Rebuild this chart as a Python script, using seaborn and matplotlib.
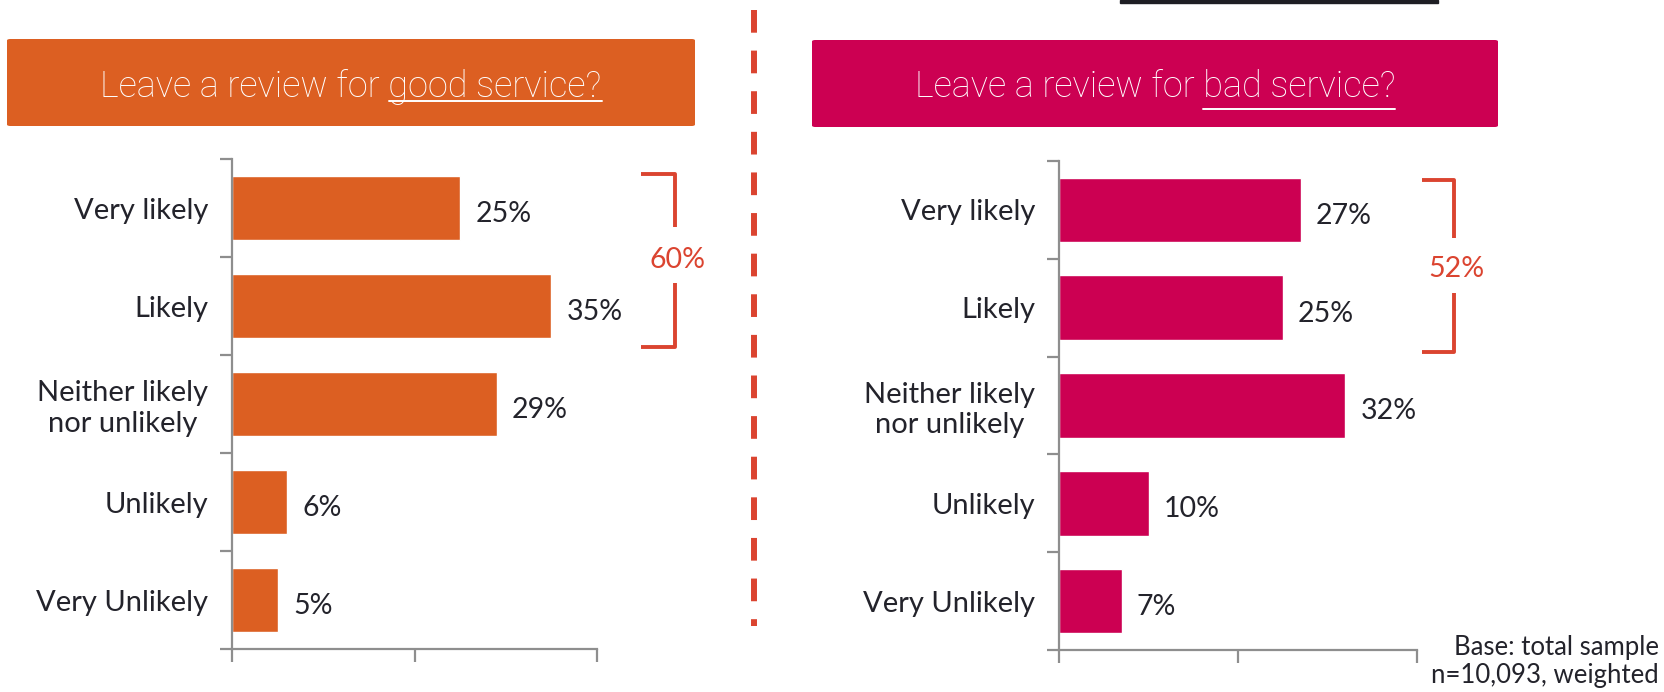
import numpy as np
import pandas as pd
import matplotlib
matplotlib.use('Agg')
import matplotlib.pyplot as plt
import seaborn as sns
from matplotlib.patches import Rectangle, FancyBboxPatch
from matplotlib.lines import Line2D

# Data
categories = ['Very likely', 'Likely', 'Neither likely\nnor unlikely', 'Unlikely', 'Very Unlikely']
good_values = [25, 35, 29, 6, 5]
bad_values = [27, 25, 32, 10, 7]
good_top2 = '60%'
bad_top2 = '52%'

ORANGE = '#DC5F22'
PINK = '#CC0052'
RED = '#DB4430'
GREY = '#8E8E8E'
TEXT = '#23232B'

sns.set_style('white')
plt.rcParams['font.family'] = ['Lato', 'DejaVu Sans']

W, H = 1664, 692
fig = plt.figure(figsize=(W / 100, H / 100), dpi=100)
fig.patch.set_facecolor('white')

ax1 = fig.add_axes([232 / W, 1 - 649 / H, 365 / W, 490 / H])
ax2 = fig.add_axes([1059 / W, 1 - 650 / H, 358 / W, 489 / H])


def draw_panel(ax, values, color, top2, br):
    df = pd.DataFrame({'answer': categories, 'pct': values})
    sns.barplot(data=df, x='pct', y='answer', ax=ax, color=color,
                width=0.66, orient='h', saturation=1)
    ax.set_xlim(0, 40)
    ax.set_ylim(4.5, -0.5)
    ax.set_xlabel('')
    ax.set_ylabel('')

    # ticks: boundaries as major ticks, category names on minor ticks
    ax.set_xticks([0, 20, 40])
    ax.set_xticklabels([])
    ax.set_yticks(np.arange(-0.5, 5, 1))
    ax.set_yticklabels([])
    ax.set_yticks(range(len(categories)), minor=True)
    ax.set_yticklabels(categories, minor=True, fontsize=21, color=TEXT,
                       multialignment='center')
    ax.tick_params(axis='x', which='major', bottom=True, length=9, width=1.6,
                   color=GREY, direction='out')
    ax.tick_params(axis='y', which='major', left=True, length=9, width=1.6,
                   color=GREY, direction='out')
    ax.tick_params(axis='y', which='minor', left=True, labelleft=True,
                   length=0, pad=17)

    sns.despine(ax=ax)
    for s in ['left', 'bottom']:
        ax.spines[s].set_color(GREY)
        ax.spines[s].set_linewidth(1.6)

    anns = ax.bar_label(ax.containers[0], labels=[f'{v}%' for v in values],
                        padding=11, fontsize=20.5, color=TEXT)
    for a in anns:
        a.set_verticalalignment('center_baseline')
        a.xyann = (11, -2.5)

    # bracket for the top-two total
    xa, xv, yt, yb, g0, g1, ty = br
    kw = dict(color=RED, lw=2.8, clip_on=False, solid_capstyle='butt',
              solid_joinstyle='round')
    ax.plot([xa, xv, xv], [yt, yt, g0], **kw)
    ax.plot([xv, xv, xa], [g1, yb, yb], **kw)
    ax.text(xv + 0.3, ty, top2, ha='center', va='center_baseline', fontsize=20.5,
            color=RED, clip_on=False)


draw_panel(ax1, good_values, ORANGE, good_top2,
           (44.8, 48.5, -0.35, 1.42, 0.19, 0.77, 0.50))
draw_panel(ax2, bad_values, PINK, bad_top2,
           (40.6, 44.1, -0.31, 1.45, 0.29, 0.85, 0.58))

# header boxes
for x0, x1, y0, y1, c in [(7, 695, 39, 126, ORANGE), (812, 1498, 40, 127, PINK)]:
    fig.add_artist(FancyBboxPatch((x0 / W, 1 - y1 / H), (x1 - x0) / W, (y1 - y0) / H,
                                  boxstyle='round,pad=0,rounding_size=0.002',
                                  transform=fig.transFigure, facecolor=c,
                                  edgecolor='none'))

headers = [(351, 'Leave a review for ', 'good service?'),
           (1155, 'Leave a review for ', 'bad service?')]
head_texts = []
for cx, pre, under in headers:
    t = fig.text(cx / W, 1 - 87 / H, pre + under, ha='center', va='center',
                 color='white', fontsize=26, fontweight='light',
                 family=['Roboto', 'DejaVu Sans'])
    head_texts.append((t, pre + under, under))

fig.canvas.draw()
r = fig.canvas.get_renderer()
for t, full, under in head_texts:
    bb = t.get_window_extent(r)
    _, _, d = r.get_text_width_height_descent(full, t.get_fontproperties(), ismath=False)
    wu, _, _ = r.get_text_width_height_descent(under, t.get_fontproperties(), ismath=False)
    base = bb.y0 + d - 4
    fig.add_artist(Line2D([(bb.x1 - wu) / W, bb.x1 / W], [base / H, base / H],
                          transform=fig.transFigure, color='white', lw=1.4))

# dashed divider
fig.add_artist(Line2D([754 / W, 754 / W], [1 - 10 / H, 1 - 626 / H],
                      transform=fig.transFigure, color=RED, lw=4.3,
                      dashes=(3.8, 3.0)))

# cut-off element at the very top
fig.add_artist(Rectangle((1120 / W, 1 - 3 / H), 318 / W, 3 / H,
                         transform=fig.transFigure, color='#1E1E24'))

fig.text(1659 / W, 1 - 647 / H, 'Base: total sample', ha='right', va='center',
         fontsize=18.5, color=TEXT)
fig.text(1659 / W, 1 - 675 / H, 'n=10,093, weighted', ha='right', va='center',
         fontsize=18.5, color=TEXT)

fig.savefig('out.png', dpi=100)
